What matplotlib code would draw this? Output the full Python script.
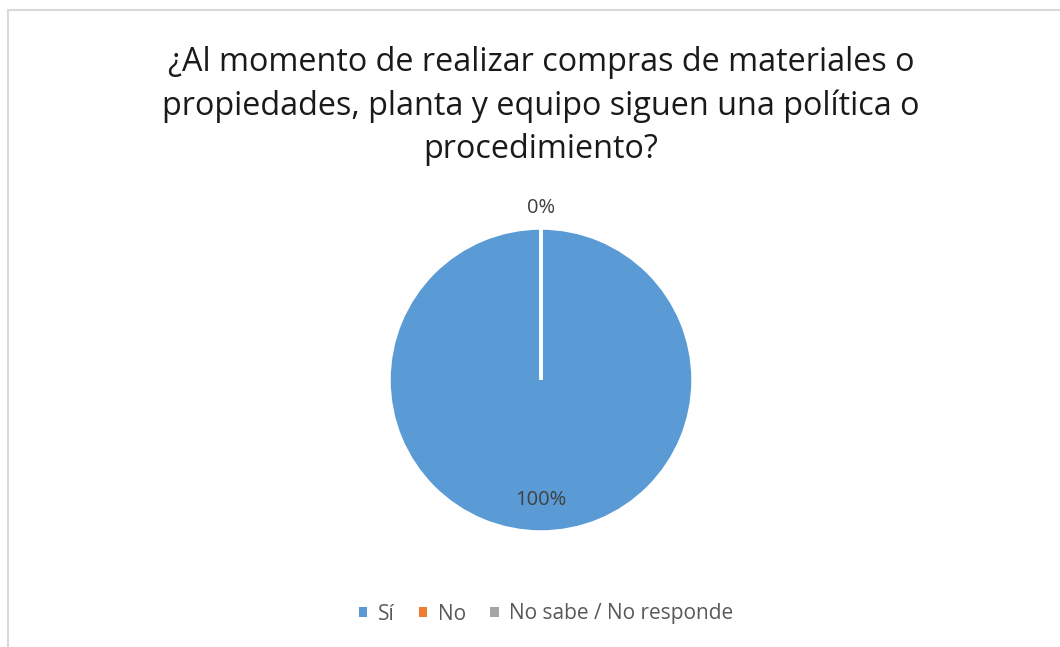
import matplotlib
matplotlib.use("Agg")
import matplotlib.pyplot as plt
from matplotlib.patches import Rectangle
import numpy as np

title = "¿Al momento de realizar compras de materiales o\npropiedades, planta y equipo siguen una política o\nprocedimiento?"
categories = ["Sí", "No", "No sabe / No responde"]
values = [100, 0, 0]
colors = ["#5B9BD5", "#ED7D31", "#A5A5A5"]

plt.rcParams['font.family'] = ['Open Sans', 'DejaVu Sans']

W, H = 1060, 647
fig = plt.figure(figsize=(W/100, H/100), dpi=100)
fig.patch.set_facecolor("white")

# border
fig.add_artist(Rectangle((7.5/W, -0.1), 1.2, 1 - 9.5/H + 0.1, transform=fig.transFigure,
                         fill=False, edgecolor="#D9D9D9", linewidth=1.5))

cx, cy, r = 541, 380, 152
ax = fig.add_axes([(cx - r)/W, (H - cy - r)/H, 2*r/W, 2*r/H])
wedges, _ = ax.pie(values, colors=colors, startangle=90, counterclock=False,
                   wedgeprops=dict(edgecolor="white", linewidth=2.5))
ax.set_xlim(-1, 1)
ax.set_ylim(-1, 1)
ax.set_aspect("equal")
ax.axis("off")

total = sum(values)
shown_zero = False
for w, v in zip(wedges, values):
    ang = np.deg2rad((w.theta1 + w.theta2) / 2)
    pct = f"{v/total*100:.0f}%"
    if v == 0:
        if shown_zero:
            continue
        shown_zero = True
        d = 1.13
    else:
        d = 0.79
    ax.text(d*np.cos(ang), d*np.sin(ang), pct, ha="center", va="center",
            fontsize=14.5, color="#404040")

fig.text(cx/W, 1 - 106/H, title, ha="center", va="center", fontsize=23.3,
         color="#1a1a1a", linespacing=1.42)

handles = [Rectangle((0, 0), 1, 1, facecolor=c, edgecolor="none") for c in colors]
leg = fig.legend(handles, categories, loc="center", bbox_to_anchor=(546/W, 1 - 614/H),
                 ncol=3, frameon=False, fontsize=15, handlelength=0.42, handleheight=0.42,
                 handletextpad=0.5, columnspacing=1.15, labelcolor="#595959")

fig.savefig("out.png", dpi=100)
